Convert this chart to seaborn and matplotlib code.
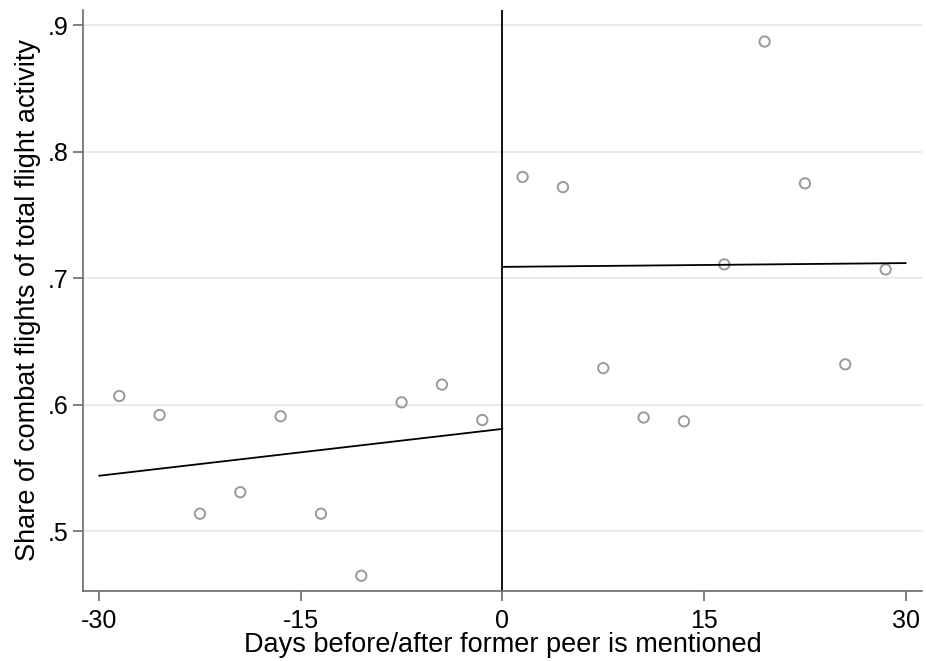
import numpy as np
import pandas as pd
import seaborn as sns
from matplotlib import pyplot as plt

# binned means (3-day bins) of combat share, before / after the mention
days_before = [-28.5, -25.5, -22.5, -19.5, -16.5, -13.5, -10.5, -7.5, -4.5, -1.5]
share_before = [0.607, 0.592, 0.514, 0.531, 0.591, 0.514, 0.465, 0.602, 0.616, 0.588]
days_after = [1.5, 4.5, 7.5, 10.5, 13.5, 16.5, 19.5, 22.5, 25.5, 28.5]
share_after = [0.780, 0.772, 0.629, 0.590, 0.587, 0.711, 0.887, 0.775, 0.632, 0.707]

# linear fits on each side of the cutoff (endpoints)
fit_x_before = [-30, 0]
fit_y_before = [0.544, 0.581]
fit_x_after = [0, 30]
fit_y_after = [0.709, 0.712]

x_ticks = [-30, -15, 0, 15, 30]
y_ticks = [0.5, 0.6, 0.7, 0.8, 0.9]
y_ticklabels = [".5", ".6", ".7", ".8", ".9"]

sns.set_theme(style="white")
plt.rcParams["font.family"] = ["Liberation Sans", "DejaVu Sans"]
plt.rcParams["text.color"] = "black"
plt.rcParams["axes.labelcolor"] = "black"

scatter_df = pd.DataFrame({
    "day": days_before + days_after,
    "share": share_before + share_after,
})

fig = plt.figure(figsize=(9.26, 6.61), dpi=100)
ax = fig.add_axes([0.0896, 0.106, 0.906, 0.879])

ax.grid(axis="y", color="#e6e6e6", linewidth=1.2)
ax.set_axisbelow(True)

ax.axvline(0, color="#111111", linewidth=1.4, zorder=2)

sns.scatterplot(
    data=scatter_df, x="day", y="share", ax=ax,
    marker="o", s=55, facecolor="none", edgecolor="#9a9a9a", linewidth=1.4, zorder=3,
)
sns.lineplot(x=fit_x_before, y=fit_y_before, ax=ax, color="black", linewidth=1.3, zorder=4)
sns.lineplot(x=fit_x_after, y=fit_y_after, ax=ax, color="black", linewidth=1.3, zorder=4)

ax.set_xlim(-31.2, 31.2)
ax.set_ylim(0.453, 0.912)
ax.set_xticks(x_ticks)
ax.set_xticklabels([str(t) for t in x_ticks])
ax.set_yticks(y_ticks)
ax.set_yticklabels(y_ticklabels)

for side in ("top", "right"):
    ax.spines[side].set_visible(False)
for side in ("left", "bottom"):
    ax.spines[side].set_color("#6a6a6a")
    ax.spines[side].set_linewidth(1.2)

ax.tick_params(axis="both", which="major", direction="out", length=7.2, width=1.2,
               color="#6a6a6a", labelsize=18, labelcolor="black",
               left=True, bottom=True)
ax.tick_params(axis="x", pad=6)
ax.tick_params(axis="y", pad=3)

ax.set_xlabel("Days before/after former peer is mentioned", fontsize=19.5, labelpad=-1)
ax.set_ylabel("Share of combat flights of total flight activity", fontsize=19.5, labelpad=5)

fig.savefig("out.png", dpi=100)
